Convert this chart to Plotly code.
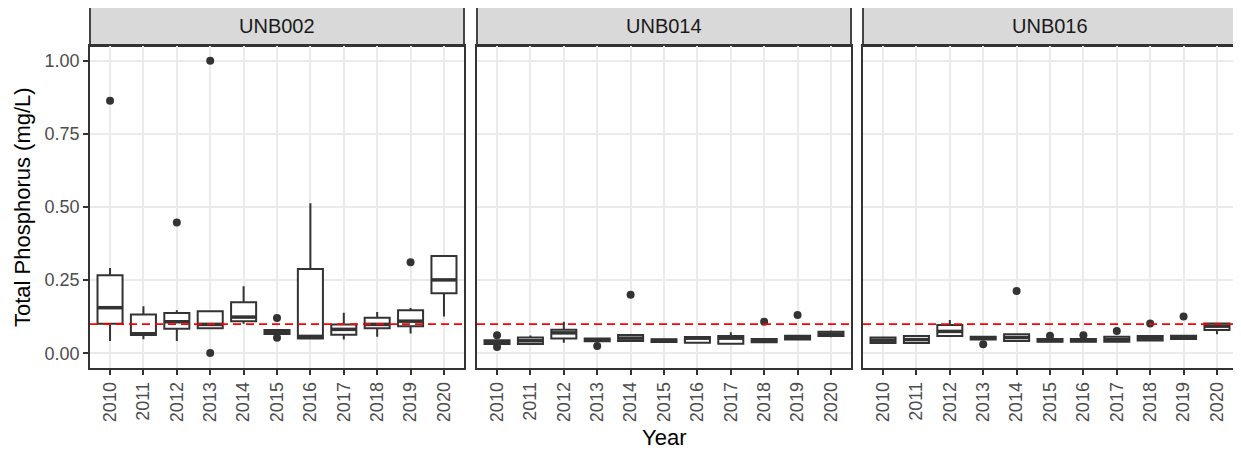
import plotly.graph_objects as go

# Data
years = ["2010", "2011", "2012", "2013", "2014", "2015", "2016", "2017", "2018", "2019", "2020"]
sites = ["UNB002", "UNB014", "UNB016"]

unb002_q1 = [0.101, 0.063, 0.084, 0.086, 0.110, 0.066, 0.051, 0.064, 0.086, 0.093, 0.205]
unb002_med = [0.156, 0.067, 0.108, 0.099, 0.124, 0.073, 0.058, 0.082, 0.099, 0.110, 0.251]
unb002_q3 = [0.267, 0.133, 0.138, 0.144, 0.175, 0.080, 0.288, 0.099, 0.122, 0.147, 0.333]
unb002_lo = [0.042, 0.048, 0.042, 0.086, 0.101, 0.066, 0.048, 0.047, 0.057, 0.068, 0.126]
unb002_hi = [0.292, 0.161, 0.147, 0.144, 0.229, 0.080, 0.513, 0.139, 0.141, 0.155, 0.333]
unb002_out_year = ["2010", "2012", "2013", "2013", "2015", "2015", "2019"]
unb002_out_val = [0.863, 0.447, 1.000, 0.001, 0.121, 0.053, 0.311]

unb014_q1 = [0.032, 0.032, 0.051, 0.041, 0.042, 0.039, 0.036, 0.033, 0.038, 0.047, 0.059]
unb014_med = [0.039, 0.043, 0.070, 0.046, 0.052, 0.044, 0.052, 0.052, 0.044, 0.054, 0.066]
unb014_q3 = [0.045, 0.054, 0.081, 0.051, 0.063, 0.048, 0.056, 0.059, 0.049, 0.060, 0.074]
unb014_lo = [0.032, 0.030, 0.036, 0.041, 0.042, 0.039, 0.036, 0.030, 0.038, 0.047, 0.055]
unb014_hi = [0.045, 0.061, 0.108, 0.051, 0.063, 0.048, 0.059, 0.072, 0.049, 0.060, 0.078]
unb014_out_year = ["2010", "2010", "2013", "2014", "2018", "2019"]
unb014_out_val = [0.062, 0.022, 0.025, 0.200, 0.108, 0.131]

unb016_q1 = [0.035, 0.035, 0.059, 0.047, 0.042, 0.040, 0.040, 0.040, 0.044, 0.049, 0.080]
unb016_med = [0.045, 0.047, 0.075, 0.052, 0.054, 0.044, 0.044, 0.047, 0.052, 0.055, 0.093]
unb016_q3 = [0.054, 0.059, 0.097, 0.057, 0.065, 0.049, 0.049, 0.057, 0.059, 0.060, 0.102]
unb016_lo = [0.033, 0.034, 0.059, 0.047, 0.042, 0.040, 0.040, 0.040, 0.044, 0.049, 0.065]
unb016_hi = [0.057, 0.059, 0.114, 0.057, 0.065, 0.049, 0.049, 0.057, 0.059, 0.060, 0.104]
unb016_out_year = ["2013", "2014", "2015", "2016", "2017", "2018", "2019"]
unb016_out_val = [0.031, 0.213, 0.060, 0.062, 0.076, 0.102, 0.126]

threshold = 0.1
y_ticks = [0.0, 0.25, 0.5, 0.75, 1.0]
y_ticktext = ["0.00", "0.25", "0.50", "0.75", "1.00"]

panels = [
    (unb002_q1, unb002_med, unb002_q3, unb002_lo, unb002_hi, unb002_out_year, unb002_out_val),
    (unb014_q1, unb014_med, unb014_q3, unb014_lo, unb014_hi, unb014_out_year, unb014_out_val),
    (unb016_q1, unb016_med, unb016_q3, unb016_lo, unb016_hi, unb016_out_year, unb016_out_val),
]

# Page is 1241x452; the html body adds an 8px margin, so the figure is shrunk to fit
PAGE_W, PAGE_H = 1241, 452
OFF = 8
W, H = PAGE_W - OFF, PAGE_H - OFF
FONT = "Liberation Sans, Arial, sans-serif"
DARK = "#333333"
BOX_W = 0.75

# Panel placement in page pixels
panel_x = [(90, 464), (477, 851), (863, 1237)]
panel_top, panel_bottom, strip_top = 46, 368, 7


def px_x(p):
    return (p - OFF) / W


def px_y(p):
    return 1 - (p - OFF) / H


fig = go.Figure()

xpos = list(range(len(years)))
year_index = {y: i for i, y in enumerate(years)}

for k, (q1, med, q3, lo, hi, oy, ov) in enumerate(panels):
    xa = "x" if k == 0 else f"x{k + 1}"
    ya = "y" if k == 0 else f"y{k + 1}"

    # Boxes from the summary statistics
    fig.add_trace(go.Box(
        x=xpos, q1=q1, median=med, q3=q3, lowerfence=lo, upperfence=hi,
        width=BOX_W, fillcolor="white", line=dict(color=DARK, width=2),
        whiskerwidth=0, boxpoints=False, showlegend=False, hoverinfo="skip",
        xaxis=xa, yaxis=ya,
    ))

    # Thicker median bars, as ggplot draws them
    mx, my = [], []
    for i, m in zip(xpos, med):
        mx += [i - BOX_W / 2, i + BOX_W / 2, None]
        my += [m, m, None]
    fig.add_trace(go.Scatter(
        x=mx, y=my, mode="lines", line=dict(color=DARK, width=3.5),
        showlegend=False, hoverinfo="skip", xaxis=xa, yaxis=ya,
    ))

    # Outliers
    fig.add_trace(go.Scatter(
        x=[year_index[y] for y in oy], y=ov, mode="markers",
        marker=dict(color=DARK, size=8), showlegend=False, xaxis=xa, yaxis=ya,
    ))

    # Guideline
    fig.add_trace(go.Scatter(
        x=[-0.6, len(years) - 0.4], y=[threshold, threshold], mode="lines",
        line=dict(color="red", width=1.8, dash="8px,5px"),
        showlegend=False, hoverinfo="skip", xaxis=xa, yaxis=ya,
    ))

    x0, x1 = panel_x[k]
    axis_common = dict(
        showline=True, mirror=True, linecolor=DARK, linewidth=1.8,
        ticks="outside", ticklen=5, tickwidth=1.5, tickcolor=DARK,
        showgrid=True, gridcolor="#EBEBEB", gridwidth=1.6, zeroline=False,
        tickfont=dict(family=FONT, size=18, color="#4D4D4D"),
    )
    fig.update_layout({
        ("xaxis" if k == 0 else f"xaxis{k + 1}"): dict(
            axis_common, domain=[px_x(x0), px_x(x1)], anchor=ya,
            range=[-0.6, len(years) - 0.4], tickmode="array",
            tickvals=xpos, ticktext=years, tickangle=-90,
        ),
        ("yaxis" if k == 0 else f"yaxis{k + 1}"): dict(
            axis_common, domain=[px_y(panel_bottom), px_y(panel_top)], anchor=xa,
            range=[-0.05, 1.05], tickmode="array", tickvals=y_ticks,
            ticktext=y_ticktext, showticklabels=(k == 0),
            ticks="outside" if k == 0 else "",
        ),
    })

    # Facet strip
    fig.add_shape(
        type="rect", xref="paper", yref="paper",
        x0=px_x(x0), x1=px_x(x1), y0=px_y(panel_top), y1=px_y(strip_top),
        fillcolor="#D9D9D9", line=dict(color=DARK, width=1.8), layer="below",
    )
    fig.add_annotation(
        text=sites[k], xref="paper", yref="paper",
        x=px_x((x0 + x1) / 2), y=px_y((strip_top + panel_top) / 2),
        showarrow=False, xanchor="center", yanchor="middle",
        font=dict(family=FONT, size=20, color="#1A1A1A"),
    )

# Axis titles
fig.add_annotation(
    text="Total Phosphorus (mg/L)", xref="paper", yref="paper",
    x=px_x(22), y=px_y((panel_top + panel_bottom) / 2), textangle=-90,
    showarrow=False, xanchor="center", yanchor="middle",
    font=dict(family=FONT, size=22, color="black"),
)
fig.add_annotation(
    text="Year", xref="paper", yref="paper",
    x=px_x((panel_x[0][0] + panel_x[2][1]) / 2), y=px_y(437),
    showarrow=False, xanchor="center", yanchor="middle",
    font=dict(family=FONT, size=22, color="black"),
)

fig.update_layout(
    width=W, height=H,
    margin=dict(l=0, r=0, t=0, b=0),
    paper_bgcolor="white", plot_bgcolor="white",
    font=dict(family=FONT),
)

fig.write_html("out.html")
